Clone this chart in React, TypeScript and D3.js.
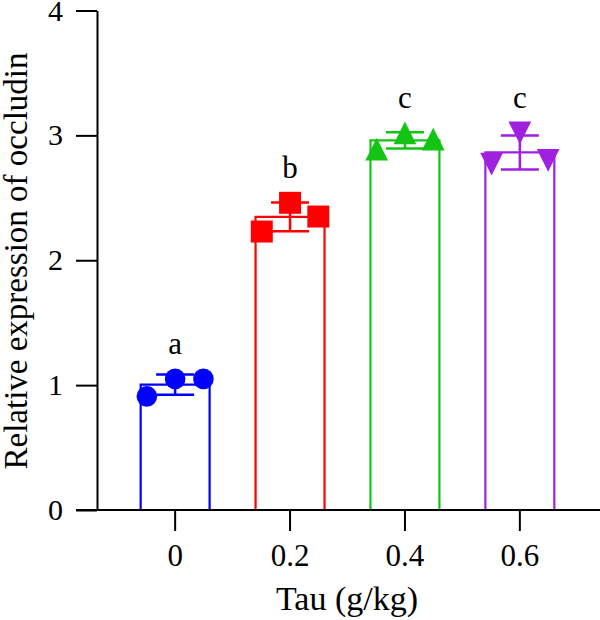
import React, { useEffect, useRef } from "react";
import * as d3 from "d3";

// replicate values per dose (g/kg)
const groups = ["0", "0.2", "0.4", "0.6"];
const tau0 = [0.91, 1.05, 1.05];
const tau02 = [2.23, 2.46, 2.35];
const tau04 = [2.89, 3.02, 2.97];
const tau06 = [2.77, 3.02, 2.80];
const replicates = [tau0, tau02, tau04, tau06];
const letters = ["a", "b", "c", "c"];
const colors = ["#0000ff", "#ff0000", "#14c414", "#a020e0"];
const shapes = ["circle", "square", "triangle", "triangleDown"];
const yTicks = [0, 1, 2, 3, 4];

const FONT = "'Liberation Serif', 'Times New Roman', serif";

function markerPath(shape: string) {
  if (shape === "circle") return d3.symbol(d3.symbolCircle, Math.PI * 10.3 * 10.3)();
  if (shape === "square") return d3.symbol(d3.symbolSquare, 22 * 22)();
  const hw = 11.4, hh = 11.4;
  if (shape === "triangle") return `M0,${-hh}L${hw},${hh}L${-hw},${hh}Z`;
  return `M0,${hh}L${hw},${-hh}L${-hw},${-hh}Z`;
}

export default function App() {
  const ref = useRef<SVGSVGElement>(null);

  useEffect(() => {
    const svg = d3.select(ref.current);
    svg.selectAll("*").remove();

    const x = d3.scaleBand().domain(groups).range([97, 598]).paddingInner(0.4).paddingOuter(0.38);
    const y = d3.scaleLinear().domain([0, 4]).range([510, 10.5]);
    const bw = x.bandwidth();
    const jitter = bw * 0.41;

    const stats = replicates.map((vals, i) => ({
      key: groups[i],
      vals,
      mean: d3.mean(vals) as number,
      sd: d3.deviation(vals) as number,
      color: colors[i],
      shape: shapes[i],
      letter: letters[i],
    }));

    // bars (open rectangles)
    svg.append("g")
      .selectAll("path")
      .data(stats)
      .join("path")
      .attr("d", d => `M${x(d.key)},${y(0)}V${y(d.mean)}H${(x(d.key) as number) + bw}V${y(0)}`)
      .attr("fill", "none")
      .attr("stroke", d => d.color)
      .attr("stroke-width", 2.2);

    // error bars (mean ± SD)
    const eb = svg.append("g").selectAll("g").data(stats).join("g")
      .attr("stroke", d => d.color).attr("stroke-width", 2.5).attr("fill", "none");
    eb.append("path").attr("d", d => {
      const cx = (x(d.key) as number) + bw / 2;
      const hi = y(d.mean + d.sd), lo = y(d.mean - d.sd);
      return `M${cx},${hi}V${lo}M${cx - 19},${hi}H${cx + 19}M${cx - 19},${lo}H${cx + 19}`;
    });

    // points
    stats.forEach(s => {
      const cx = (x(s.key) as number) + bw / 2;
      svg.append("g")
        .selectAll("path")
        .data(s.vals)
        .join("path")
        .attr("d", markerPath(s.shape))
        .attr("transform", (v, j) => `translate(${cx + (j - 1) * jitter},${y(v)})`)
        .attr("fill", s.color);

      // significance letter
      svg.append("text")
        .attr("x", cx)
        .attr("y", y(d3.max(s.vals) as number) - 11.4 - 13)
        .attr("text-anchor", "middle")
        .attr("font-family", FONT)
        .attr("font-size", 31)
        .attr("fill", "#000")
        .text(s.letter);
    });

    // y axis
    const yAxis = svg.append("g")
      .attr("transform", "translate(97,0)")
      .call(d3.axisLeft(y).tickValues(yTicks).tickFormat(d3.format("d")).tickSize(21).tickSizeOuter(0).tickPadding(13));
    yAxis.selectAll("line, path").attr("stroke", "#000").attr("stroke-width", 2);
    yAxis.selectAll("text").attr("font-family", FONT).attr("font-size", 30).attr("fill", "#000");

    // x axis
    const xAxis = svg.append("g")
      .attr("transform", "translate(0,510)")
      .call(d3.axisBottom(x).tickSize(21).tickSizeOuter(0).tickPadding(12.5));
    xAxis.select(".domain").remove();
    xAxis.selectAll("line").attr("stroke", "#000").attr("stroke-width", 2);
    xAxis.selectAll("text").attr("font-family", FONT).attr("font-size", 31).attr("fill", "#000");
    svg.append("line")
      .attr("x1", 76).attr("x2", 600).attr("y1", 510).attr("y2", 510)
      .attr("stroke", "#000").attr("stroke-width", 2);

    // axis titles
    svg.append("text")
      .attr("transform", "translate(27,261) rotate(-90)")
      .attr("text-anchor", "middle")
      .attr("font-family", FONT)
      .attr("font-size", 33)
      .attr("fill", "#000")
      .text("Relative expression of occludin");
    svg.append("text")
      .attr("x", 347).attr("y", 610)
      .attr("text-anchor", "middle")
      .attr("font-family", FONT)
      .attr("font-size", 34)
      .attr("fill", "#000")
      .text("Tau (g/kg)");
  }, []);

  return (
    <svg ref={ref} width={600} height={620}
      style={{ position: "absolute", left: 0, top: 0, display: "block", background: "#fff" }} />
  );
}
